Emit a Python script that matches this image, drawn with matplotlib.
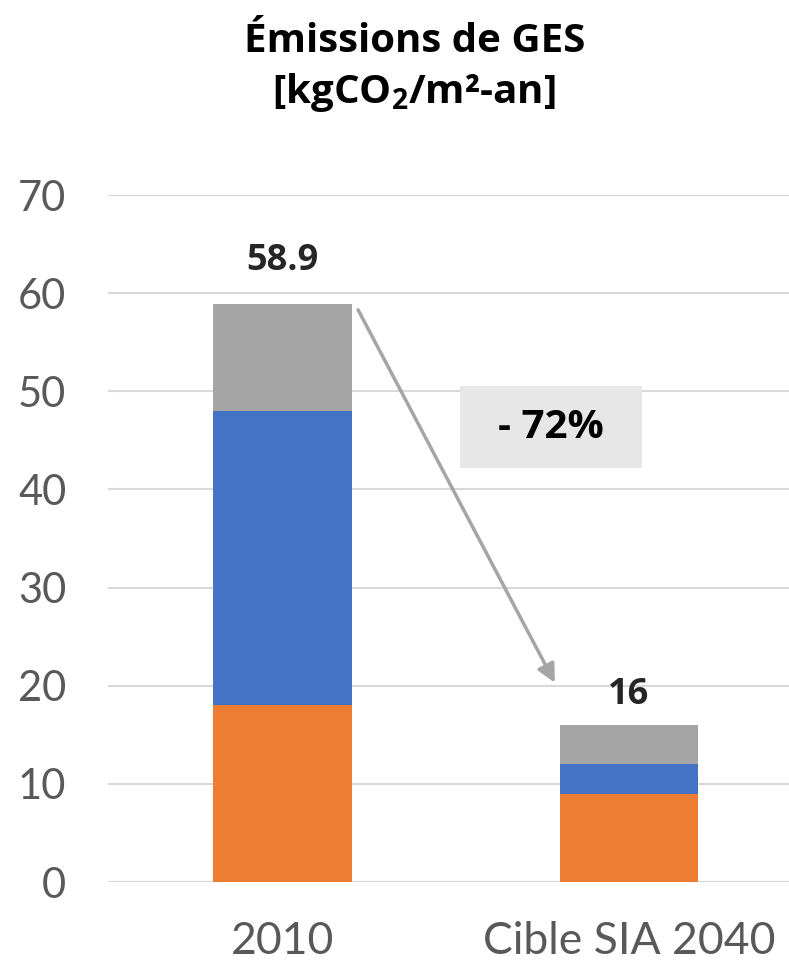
import matplotlib
matplotlib.use("Agg")
import matplotlib.pyplot as plt
from matplotlib.patches import Rectangle

categories = ["2010", "Cible SIA 2040"]
orange_vals = [18.0, 9.0]
blue_vals = [30.0, 3.0]
gray_vals = [10.9, 4.0]
total_labels = ["58.9", "16"]
yticks = [0, 10, 20, 30, 40, 50, 60, 70]
title = "Émissions de GES\n[kgCO$_\\mathregular{2}$/m²-an]"
reduction_label = "- 72%"

C_OR = "#ED7D31"
C_BL = "#4472C4"
C_GR = "#A5A5A5"

fig = plt.figure(figsize=(7.89, 9.63), dpi=100)
ax = fig.add_axes([108/789, 1 - 882/963, 1 - 108/789, (882 - 195)/963])

x = list(range(len(categories)))
w = 0.40
ax.bar(x, orange_vals, w, color=C_OR, zorder=2)
b1 = [o for o in orange_vals]
ax.bar(x, blue_vals, w, bottom=b1, color=C_BL, zorder=2)
b2 = [o + b for o, b in zip(orange_vals, blue_vals)]
ax.bar(x, gray_vals, w, bottom=b2, color=C_GR, zorder=2)
tops = [a + g for a, g in zip(b2, gray_vals)]

label_offsets = [24.5, 15]
for xi, t, lab, off in zip(x, tops, total_labels, label_offsets):
    ax.annotate(lab, (xi, t), xytext=(0, off), textcoords="offset points",
                ha="center", va="baseline", fontsize=26, fontweight="bold",
                color="#262626", family="Open Sans")

ax.set_xlim(-0.504, 1.462)
ax.set_ylim(0, 70)
ax.set_yticks(yticks)
ax.set_xticks(x)
ax.set_xticklabels(categories)
ax.yaxis.grid(True, color="#D9D9D9", lw=1.5, zorder=0)
ax.set_axisbelow(True)
for s in ax.spines.values():
    s.set_visible(False)
ax.tick_params(axis="both", length=0, labelsize=30, labelcolor="#595959")
ax.tick_params(axis="y", pad=30)
ax.tick_params(axis="x", pad=28, labelsize=32)
for lab in ax.get_xticklabels() + ax.get_yticklabels():
    lab.set_family("Lato")

# arrow from first bar to second
ax.annotate("", xy=(0.786, 20.3), xytext=(0.218, 58.3),
            arrowprops=dict(arrowstyle="-|>,head_length=1.1,head_width=0.55",
                            color=C_GR, lw=2.5, shrinkA=0, shrinkB=0), zorder=3)

# reduction box
ax.add_patch(Rectangle((0.512, 42.2), 0.525, 8.3, facecolor="#E7E7E7",
                       edgecolor="none", zorder=4))
ax.text(0.512 + 0.525/2, 46.35, reduction_label, ha="center", va="center",
        fontsize=29, fontweight="bold", color="black", family="Open Sans", zorder=5)

fig.text(0.525, 1 - 68/963, title, ha="center", va="center",
         fontsize=29, fontweight="bold", family="Open Sans", linespacing=1.3)

fig.savefig("out.png", dpi=100)
